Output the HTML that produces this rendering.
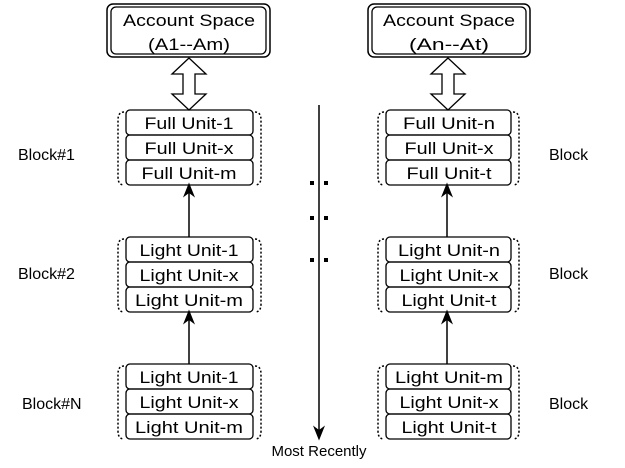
<!DOCTYPE html>
<html><head><style>body{margin:0;background:#fff}</style></head><body>
<svg width="625" height="463" xmlns="http://www.w3.org/2000/svg" font-family="Liberation Sans, sans-serif" font-size="16">
<defs><marker id="ah" markerWidth="10" markerHeight="10" refX="5" refY="5" orient="auto"><path d="M0,1 L10,5 L0,9 L3,5z" fill="#000"/></marker></defs>
<g fill="none" stroke="#000">
<rect x="107" y="4" width="163" height="53" rx="6" stroke-width="1.5"/>
<rect x="111" y="7" width="155" height="47" rx="5" stroke-width="1.3"/>
<rect x="368" y="4" width="162" height="53" rx="6" stroke-width="1.5"/>
<rect x="372" y="7" width="154" height="47" rx="5" stroke-width="1.3"/>
<path d="M189,58 L172,74 L183,74 L183,94 L172,94 L189,110 L206,94 L195,94 L195,74 L206,74 Z" stroke-width="1.3"/>
<path d="M448,58 L431,74 L442,74 L442,94 L431,94 L448,110 L465,94 L454,94 L454,74 L465,74 Z" stroke-width="1.3"/>
<g stroke-width="1.3">
<rect x="126" y="110" width="127" height="25" rx="4"/><rect x="126" y="135" width="127" height="25" rx="4"/><rect x="126" y="160" width="127" height="25" rx="4"/>
<rect x="126" y="237" width="127" height="25" rx="4"/><rect x="126" y="262" width="127" height="25" rx="4"/><rect x="126" y="287" width="127" height="25" rx="4"/>
<rect x="126" y="364" width="127" height="25" rx="4"/><rect x="126" y="389" width="127" height="25" rx="4"/><rect x="126" y="414" width="127" height="25" rx="4"/>
<rect x="386" y="110" width="125" height="25" rx="4"/><rect x="386" y="135" width="125" height="25" rx="4"/><rect x="386" y="160" width="125" height="25" rx="4"/>
<rect x="386" y="237" width="125" height="25" rx="4"/><rect x="386" y="262" width="125" height="25" rx="4"/><rect x="386" y="287" width="125" height="25" rx="4"/>
<rect x="386" y="364" width="125" height="25" rx="4"/><rect x="386" y="389" width="125" height="25" rx="4"/><rect x="386" y="414" width="125" height="25" rx="4"/>
</g>
<g stroke-width="1.5" stroke-dasharray="2,2">
<path d="M124,112 Q118,112 118,120 L118,177 Q118,185 124,185 M255,112 Q261,112 261,120 L261,177 Q261,185 255,185"/>
<path d="M124,239 Q118,239 118,247 L118,304 Q118,312 124,312 M255,239 Q261,239 261,247 L261,304 Q261,312 255,312"/>
<path d="M124,366 Q118,366 118,374 L118,431 Q118,439 124,439 M255,366 Q261,366 261,374 L261,431 Q261,439 255,439"/>
<path d="M384,112 Q378,112 378,120 L378,177 Q378,185 384,185 M513,112 Q519,112 519,120 L519,177 Q519,185 513,185"/>
<path d="M384,239 Q378,239 378,247 L378,304 Q378,312 384,312 M513,239 Q519,239 519,247 L519,304 Q519,312 513,312"/>
<path d="M384,366 Q378,366 378,374 L378,431 Q378,439 384,439 M513,366 Q519,366 519,374 L519,431 Q519,439 513,439"/>
</g>
<g stroke-width="1.5" marker-end="url(#ah)">
<line x1="189" y1="237" x2="189" y2="190"/><line x1="189" y1="364" x2="189" y2="317"/>
<line x1="447" y1="237" x2="447" y2="190"/><line x1="447" y1="364" x2="447" y2="317"/>
<line x1="319" y1="105" x2="319" y2="433"/>
</g>
</g>
<g fill="#000">
<rect x="310" y="181" width="4" height="4"/><rect x="324" y="181" width="4" height="4"/>
<rect x="310" y="216" width="4" height="4"/><rect x="324" y="216" width="4" height="4"/>
<rect x="310" y="258" width="4" height="4"/><rect x="324" y="258" width="4" height="4"/>
</g>
<g text-anchor="middle" font-size="17" lengthAdjust="spacingAndGlyphs">
<text x="189" y="26" textLength="132" lengthAdjust="spacingAndGlyphs">Account Space</text><text x="189" y="50" textLength="82" lengthAdjust="spacingAndGlyphs">(A1--Am)</text>
<text x="449" y="26" textLength="132" lengthAdjust="spacingAndGlyphs">Account Space</text><text x="449" y="50" textLength="80" lengthAdjust="spacingAndGlyphs">(An--At)</text>
<text x="189" y="129" textLength="89" lengthAdjust="spacingAndGlyphs">Full Unit-1</text><text x="189" y="154" textLength="89" lengthAdjust="spacingAndGlyphs">Full Unit-x</text><text x="189" y="179" textLength="95" lengthAdjust="spacingAndGlyphs">Full Unit-m</text>
<text x="189" y="256" textLength="99" lengthAdjust="spacingAndGlyphs">Light Unit-1</text><text x="189" y="281" textLength="99" lengthAdjust="spacingAndGlyphs">Light Unit-x</text><text x="189" y="306" textLength="108" lengthAdjust="spacingAndGlyphs">Light Unit-m</text>
<text x="189" y="383" textLength="99" lengthAdjust="spacingAndGlyphs">Light Unit-1</text><text x="189" y="408" textLength="99" lengthAdjust="spacingAndGlyphs">Light Unit-x</text><text x="189" y="433" textLength="108" lengthAdjust="spacingAndGlyphs">Light Unit-m</text>
<text x="449" y="129" textLength="92" lengthAdjust="spacingAndGlyphs">Full Unit-n</text><text x="449" y="154" textLength="89" lengthAdjust="spacingAndGlyphs">Full Unit-x</text><text x="449" y="179" textLength="85" lengthAdjust="spacingAndGlyphs">Full Unit-t</text>
<text x="449" y="256" textLength="102" lengthAdjust="spacingAndGlyphs">Light Unit-n</text><text x="449" y="281" textLength="99" lengthAdjust="spacingAndGlyphs">Light Unit-x</text><text x="449" y="306" textLength="95" lengthAdjust="spacingAndGlyphs">Light Unit-t</text>
<text x="449" y="383" textLength="108" lengthAdjust="spacingAndGlyphs">Light Unit-m</text><text x="449" y="408" textLength="99" lengthAdjust="spacingAndGlyphs">Light Unit-x</text><text x="449" y="433" textLength="95" lengthAdjust="spacingAndGlyphs">Light Unit-t</text>
</g>
<text x="319" y="456" font-size="15" text-anchor="middle">Most Recently</text>
<text x="18" y="160">Block#1</text><text x="18" y="279">Block#2</text><text x="22" y="409">Block#N</text>
<text x="549" y="160">Block</text><text x="549" y="279">Block</text><text x="549" y="409">Block</text>
</svg>
</body></html>
